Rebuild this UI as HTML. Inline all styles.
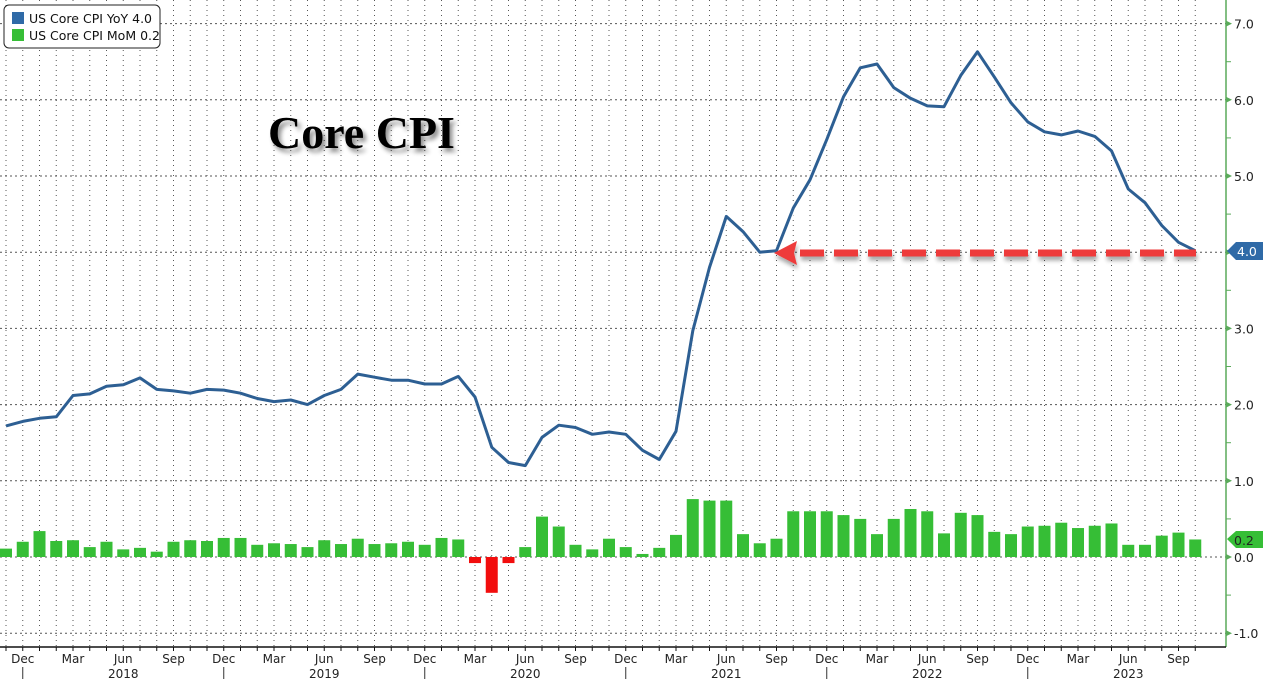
<!DOCTYPE html>
<html><head><meta charset="utf-8"><style>
html,body{margin:0;padding:0;background:#fff;width:1263px;height:679px;overflow:hidden}
svg{display:block;font-family:"DejaVu Sans","Liberation Sans",sans-serif}
</style></head><body>
<svg id="c" width="1263" height="679" xmlns="http://www.w3.org/2000/svg">
<defs>
<filter id="sh" x="-20%" y="-50%" width="140%" height="200%"><feGaussianBlur in="SourceAlpha" stdDeviation="2.5"/><feOffset dx="3" dy="4"/><feComponentTransfer><feFuncA type="linear" slope="0.45"/></feComponentTransfer><feMerge><feMergeNode/><feMergeNode in="SourceGraphic"/></feMerge></filter>
<filter id="sh2" x="-10%" y="-100%" width="120%" height="400%"><feGaussianBlur in="SourceAlpha" stdDeviation="2"/><feOffset dx="1" dy="4"/><feComponentTransfer><feFuncA type="linear" slope="0.35"/></feComponentTransfer><feMerge><feMergeNode/><feMergeNode in="SourceGraphic"/></feMerge></filter>
</defs>
<g id="grid"></g>
<g id="bars"></g>
<g id="line"></g>
<g id="axes"></g>
<rect x="4" y="5" width="156" height="43" rx="5" fill="#fff" stroke="#222" stroke-width="1"/>
<rect x="12" y="12" width="12" height="12" fill="#2f6aa7"/>
<rect x="12" y="29" width="12" height="12" fill="#36be36"/>
<text x="29" y="23" font-size="12.5" fill="#111">US Core CPI YoY  4.0</text>
<text x="29" y="40" font-size="12.5" fill="#111">US Core CPI MoM 0.2</text>
<text x="268" y="148" font-family="Liberation Serif,serif" font-weight="bold" font-size="46" fill="#000" filter="url(#sh)">Core CPI</text>
</svg>
<script>
var NS="http://www.w3.org/2000/svg";
function el(p,t,a,txt){var e=document.createElementNS(NS,t);for(var k in a)e.setAttribute(k,a[k]);if(txt!=null)e.textContent=txt;document.getElementById(p).appendChild(e);return e;}
function X(i){return 6+i*16.75;}
function Y(v){return 557-76.2*v;}
// grid
for(var i=0;i<72;i++){el("grid","line",{x1:X(i),x2:X(i),y1:0,y2:647,stroke:"#555","stroke-width":1,"stroke-dasharray":"1,4"});}
for(var v=-1;v<=7;v++){el("grid","line",{x1:0,x2:1226,y1:Y(v),y2:Y(v),stroke:"#555","stroke-width":1,"stroke-dasharray":"2,3"});}
var mom=[.11,.2,.34,.21,.22,.13,.2,.1,.12,.07,.2,.22,
.21,.25,.25,.16,.18,.17,.13,.22,.17,.24,.17,.18,
.2,.16,.25,.23,-.08,-.47,-.08,
.13,.53,.40,.16,.1,.24,.13,.04,.12,.29,.76,.74,.74,
.3,.18,.24,.6,.6,.6,.55,.5,.3,.5,.63,.6,.31,.58,.55,.33,.3,.4,.41,.45,.38,.41,.44,.16,.16,.28,.32,.23];
for(var i=0;i<mom.length;i++){var v=mom[i];var y0=Y(0),y1=Y(v);
el("bars","rect",{x:X(i)-6,y:Math.min(y0,y1),width:12,height:Math.abs(y1-y0),fill:v<0?"#f20d0d":"#36be36"});}
var yoy=[1.72,1.78,1.82,1.84,2.12,2.14,2.24,2.26,2.35,2.2,2.18,2.15,2.2,2.19,
2.15,2.08,2.04,2.06,2.0,2.12,2.2,2.4,2.36,2.32,2.32,2.27,
2.27,2.37,2.1,1.44,1.24,1.2,1.57,1.73,1.7,1.61,1.64,1.61,
1.4,1.28,1.65,2.97,3.8,4.47,4.27,4.0,4.02,4.58,4.95,5.48,
6.04,6.42,6.47,6.16,6.02,5.92,5.91,6.32,6.63,6.3,5.96,5.71,
5.58,5.54,5.59,5.52,5.33,4.83,4.65,4.35,4.13,4.02];
var pts=yoy.map(function(v,i){return X(i).toFixed(1)+","+Y(v).toFixed(1);}).join(" ");
el("line","polyline",{points:pts,fill:"none",stroke:"#fff","stroke-width":6,"stroke-linejoin":"round",opacity:0.8});
el("line","polyline",{points:pts,fill:"none",stroke:"#2d5f93","stroke-width":3,"stroke-linejoin":"round"});
// arrow
var g=el("line","g",{filter:"url(#sh2)"});
g.id="arr";
el("arr","path",{d:"M774,253 L797,241 L794,253 L797,265 Z",fill:"#ee3b3b"});
el("arr","line",{x1:800,x2:1196,y1:253,y2:253,stroke:"#ee3b3b","stroke-width":7,"stroke-dasharray":"24,10"});
// axes
el("axes","line",{x1:1226,x2:1226,y1:0,y2:647,stroke:"#5aaa5a","stroke-width":1.5});
el("axes","line",{x1:0,x2:1226,y1:647,y2:647,stroke:"#111","stroke-width":1.5});
for(var v=-1;v<=7;v++){var y=Y(v);
el("axes","path",{d:"M1226,"+(y-3)+" L1232,"+y+" L1226,"+(y+3)+"Z",fill:"#5aaa5a"});
el("axes","line",{x1:1226,x2:1231,y1:Y(v+0.5),y2:Y(v+0.5),stroke:"#5aaa5a"});
if(v!==4&&v!==0||v===0) if(v!==4) el("axes","text",{x:1234,y:y+5,"font-size":12.5,fill:"#222"},v.toFixed(1));}
// tags
el("axes","path",{d:"M1227,251 L1236,242 L1263,242 L1263,260 L1236,260 Z",fill:"#2f6aa7"});
el("axes","text",{x:1237,y:256,"font-size":12.5,fill:"#fff"},"4.0");
el("axes","path",{d:"M1227,539 L1236,531 L1263,531 L1263,548 L1236,548 Z",fill:"#36be36"});
el("axes","text",{x:1234,y:545,"font-size":12.5,fill:"#222"},"0.2");
var mn=["Dec","Mar","Jun","Sep"];
for(var i=0;i<72;i++){el("axes","line",{x1:X(i),x2:X(i),y1:647,y2:651,stroke:"#111"});}
for(var k=0;k<24;k++){var i=1+3*k;el("axes","text",{x:X(i),y:663,"font-size":12,fill:"#222","text-anchor":"middle"},mn[k%4]);
if(k%4==0)el("axes","line",{x1:X(i),x2:X(i),y1:667,y2:679,stroke:"#333"});
if(k%4==2)el("axes","text",{x:X(i),y:678,"font-size":12,fill:"#222","text-anchor":"middle"},String(2018+Math.floor(k/4)));}
</script>
</body></html>
